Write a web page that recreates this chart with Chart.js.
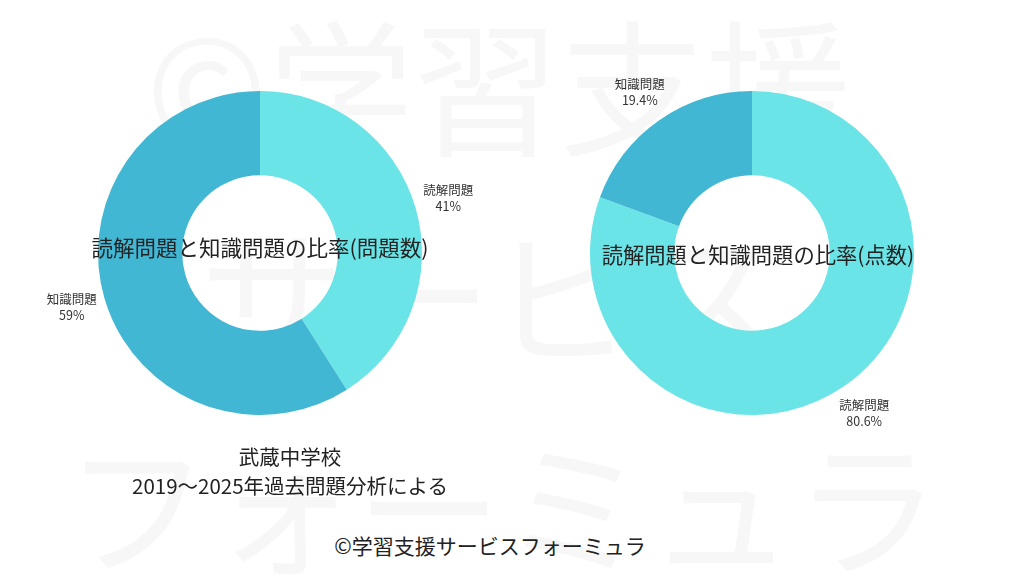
<!DOCTYPE html>
<html lang="ja">
<head>
    <meta charset="UTF-8">
    <title>読解問題と知識問題の比率</title>
    <script src="https://cdn.jsdelivr.net/npm/chart.js@4.4.1/dist/chart.umd.min.js"></script>
    <style>
        body { margin: 0; background: #fff; font-family: "Noto Sans CJK JP", sans-serif; }
        #page { position: relative; width: 1024px; height: 576px; overflow: hidden; }
        .wm { position: absolute; color: #f7f7f7; font-size: 146px; line-height: 1; white-space: nowrap; }
        .txt { position: absolute; color: #222; white-space: nowrap; transform: translateX(-50%); }
        canvas { position: absolute; top: 0; }
    </style>
</head>
<body>
<div id="page">
    <div class="wm" style="left:146px; top:8px;">©学習支援</div>
    <div class="wm" style="left:200px; top:216px;">サービス</div>
    <div class="wm" style="left:64px; top:428px;">フォーミュラ</div>

    <canvas id="chart-count" width="520" height="506" style="left:0px;"></canvas>
    <canvas id="chart-score" width="520" height="506" style="left:492px;"></canvas>

    <div class="txt" style="left:260px; top:231px; font-size:21.5px;">読解問題と知識問題の比率(問題数)</div>
    <div class="txt" style="left:758px; top:238px; font-size:21.3px;">読解問題と知識問題の比率(点数)</div>
    <div class="txt" style="left:290px; top:442px; font-size:20.5px; text-align:center; line-height:29px;">武蔵中学校<br>2019～2025年過去問題分析による</div>
    <div class="txt" style="left:490px; top:530px; font-size:21px;">©学習支援サービスフォーミュラ</div>
</div>

<script>
    // data
    const categories = ['読解問題', '知識問題'];
    const countShare = [41, 59];      // 問題数 (%)
    const scoreShare = [80.6, 19.4];  // 点数 (%)
    const countLabels = ['41%', '59%'];
    const scoreLabels = ['80.6%', '19.4%'];
    const colors = ['#6be4e7', '#42b7d4'];

    // draws "name / value" outside each slice
    const outsideLabels = {
        id: 'outsideLabels',
        afterDatasetsDraw(chart, args, opts) {
            const ctx = chart.ctx;
            const meta = chart.getDatasetMeta(0);
            ctx.save();
            ctx.font = '12.5px "Noto Sans CJK JP", sans-serif';
            ctx.fillStyle = '#333';
            ctx.textAlign = 'center';
            ctx.textBaseline = 'middle';
            meta.data.forEach((arc, i) => {
                const p = arc.getProps(['x', 'y', 'startAngle', 'endAngle', 'outerRadius'], true);
                const mid = (p.startAngle + p.endAngle) / 2;
                const r = p.outerRadius + 34;
                const x = p.x + Math.cos(mid) * r;
                const y = p.y + Math.sin(mid) * r;
                ctx.fillText(chart.data.labels[i], x, y - 8);
                ctx.fillText(opts.texts[i], x, y + 8);
            });
            ctx.restore();
        }
    };

    function makeDoughnut(id, values, texts) {
        return new Chart(document.getElementById(id), {
            type: 'doughnut',
            data: {
                labels: categories,
                datasets: [{
                    data: values,
                    backgroundColor: colors,
                    borderWidth: 0
                }]
            },
            options: {
                responsive: false,
                animation: false,
                cutout: '48%',
                layout: { padding: { left: 98, right: 98, top: 91, bottom: 91 } },
                plugins: {
                    legend: { display: false },
                    tooltip: { enabled: false },
                    outsideLabels: { texts: texts }
                }
            },
            plugins: [outsideLabels]
        });
    }

    makeDoughnut('chart-count', countShare, countLabels);
    makeDoughnut('chart-score', scoreShare, scoreLabels);
</script>
</body>
</html>
